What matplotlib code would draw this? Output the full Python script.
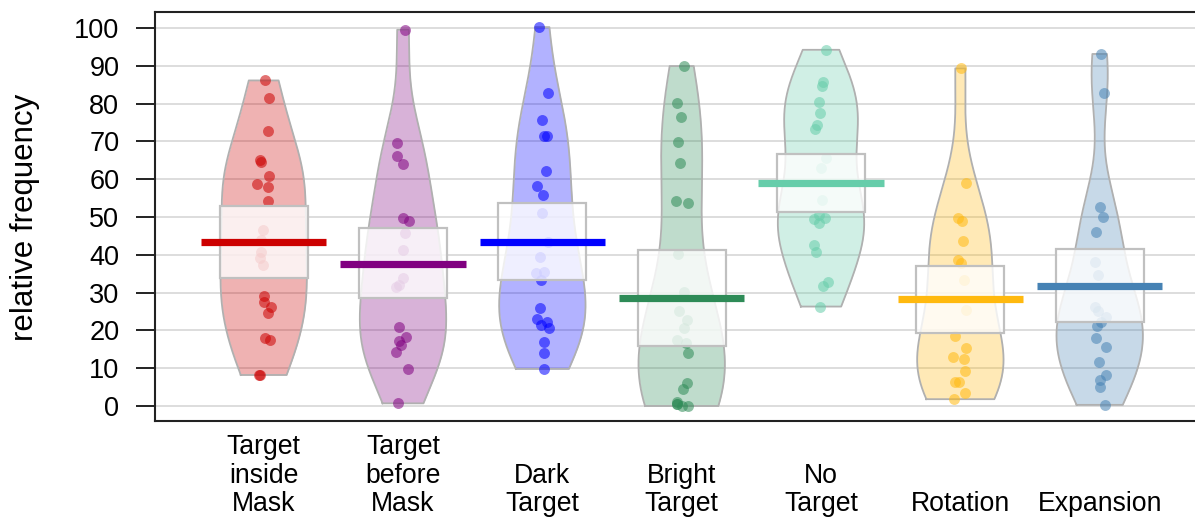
import numpy as np
import matplotlib
matplotlib.use('Agg')
import matplotlib.pyplot as plt
from matplotlib.patches import Rectangle
from matplotlib.transforms import blended_transform_factory

plt.rcParams['font.family'] = ['Liberation Sans', 'DejaVu Sans']

labels = ['Target\ninside\nMask', 'Target\nbefore\nMask', 'Dark\nTarget', 'Bright\nTarget',
          'No\nTarget', 'Rotation', 'Expansion']
colors = ['#CC0000', '#800080', '#0000FF', '#2E8B57', '#66CDAA', '#FFB90F', '#4682B4']

# relative frequency per participant
inside_mask = [86.1, 81.4, 72.8, 65.1, 64.5, 60.8, 58.7, 57.8, 54.2, 46.6, 43.9, 40.8,
               39.1, 37.3, 29.1, 27.6, 26.1, 24.5, 17.9, 17.5, 8.2, 8.2]
before_mask = [99.5, 69.5, 66.0, 64.0, 49.8, 48.8, 45.7, 41.3, 33.8, 32.0, 31.6, 21.0,
               18.3, 17.3, 16.1, 14.2, 9.8, 0.7]
dark_target = [100.2, 82.9, 75.7, 71.4, 71.4, 62.2, 58.2, 55.8, 51.0, 43.5, 39.3, 35.5,
               35.1, 33.3, 25.8, 23.0, 22.3, 21.4, 20.5, 16.9, 13.9, 9.8]
bright_target = [89.9, 80.1, 76.5, 69.7, 64.2, 54.1, 53.8, 40.3, 30.2, 25.0, 22.8, 20.6,
                 17.5, 16.6, 13.9, 6.0, 4.5, 1.0, 0.5, 0.0, 0.0, 0.5]
no_target = [94.2, 85.8, 84.5, 80.5, 77.6, 74.3, 73.2, 65.5, 62.9, 54.5, 50.5, 49.7,
             49.5, 48.3, 42.6, 40.8, 32.9, 31.7, 26.3]
rotation = [89.3, 59.1, 49.6, 49.0, 43.7, 38.6, 37.9, 33.3, 25.4, 18.5, 15.3, 13.0,
            12.3, 9.3, 6.4, 6.3, 3.4, 1.8]
expansion = [93.1, 82.7, 52.7, 49.9, 45.9, 38.2, 34.7, 26.3, 25.0, 23.6, 22.3, 21.2,
             17.9, 15.7, 11.7, 8.2, 6.9, 5.1, 0.3]

groups = [inside_mask, before_mask, dark_target, bright_target, no_target, rotation, expansion]

# mean and inference band (HDI) per condition
means = [43.3, 37.6, 43.3, 28.5, 58.9, 28.2, 31.8]
inf_low = [33.8, 28.5, 33.2, 15.9, 51.3, 19.2, 22.1]
inf_high = [52.8, 47.0, 53.6, 41.3, 66.7, 36.9, 41.5]


def bw_nrd0(x):
    sd = np.std(x, ddof=1)
    q75, q25 = np.percentile(x, [75, 25])
    return 0.9 * min(sd, (q75 - q25) / 1.34) * len(x) ** -0.2


def kde(x, grid):
    h = bw_nrd0(x)
    z = (grid[:, None] - x[None, :]) / h
    return np.exp(-0.5 * z ** 2).sum(axis=1) / (len(x) * h * np.sqrt(2 * np.pi))


fig = plt.figure(figsize=(11.95, 5.19), dpi=100)
ax = fig.add_axes([155 / 1195, 1 - 421 / 519, (1200 - 155) / 1195, (421 - 12) / 519])

rng = np.random.default_rng(7)
for i, (vals, col) in enumerate(zip(groups, colors)):
    pos = i + 1
    v = np.array(vals)
    ys = np.linspace(v.min(), v.max(), 300)
    d = kde(v, ys)
    w = 0.31 * d / d.max()
    ax.fill_betweenx(ys, pos - w, pos + w, color=col, alpha=0.3, lw=0, zorder=2)
    ax.plot(np.r_[pos - w, (pos + w)[::-1], pos - w[0]], np.r_[ys, ys[::-1], ys[0]],
            color='#B0B0B0', lw=1.3, zorder=3)
    jit = rng.uniform(-0.05, 0.05, len(v))
    ax.scatter(pos + jit, v, s=62, color=col, alpha=0.55, lw=0, zorder=4)
    ax.add_patch(Rectangle((pos - 0.315, inf_low[i]), 0.63, inf_high[i] - inf_low[i],
                           facecolor='white', alpha=0.8, edgecolor='none', zorder=5))
    ax.add_patch(Rectangle((pos - 0.315, inf_low[i]), 0.63, inf_high[i] - inf_low[i],
                           facecolor='none', edgecolor='#C0C0C0', lw=1.6, zorder=6))
    ax.hlines(means[i], pos - 0.45, pos + 0.45, color=col, lw=5.2, capstyle='butt', zorder=7)

ax.set_xlim(0.22, 7.72)
ax.set_ylim(-3.97, 104.2)
ax.set_yticks(range(0, 101, 10))
ax.set_xticks([])
ax.set_axisbelow(True)
ax.yaxis.grid(True, color='#D3D3D3', lw=1.1)
ax.tick_params(axis='y', length=13.7, width=1.4, pad=12, labelsize=19.5, colors='#222222')
ax.tick_params(axis='y', labelcolor='black')
ax.spines['right'].set_visible(False)
for s in ['left', 'top', 'bottom']:
    ax.spines[s].set_linewidth(1.5)
    ax.spines[s].set_color('#222222')

tr = blended_transform_factory(ax.transData, fig.transFigure)
for i, lab in enumerate(labels):
    ax.text(i + 1, 1 - 517 / 519, lab, transform=tr, ha='center', va='bottom',
            multialignment='center', fontsize=19.2, linespacing=1.12)

fig.text(25 / 1195, 1 - 217 / 519, 'relative frequency', rotation=90, ha='center',
         va='center', fontsize=22.5)

fig.savefig('out.png', dpi=100)
